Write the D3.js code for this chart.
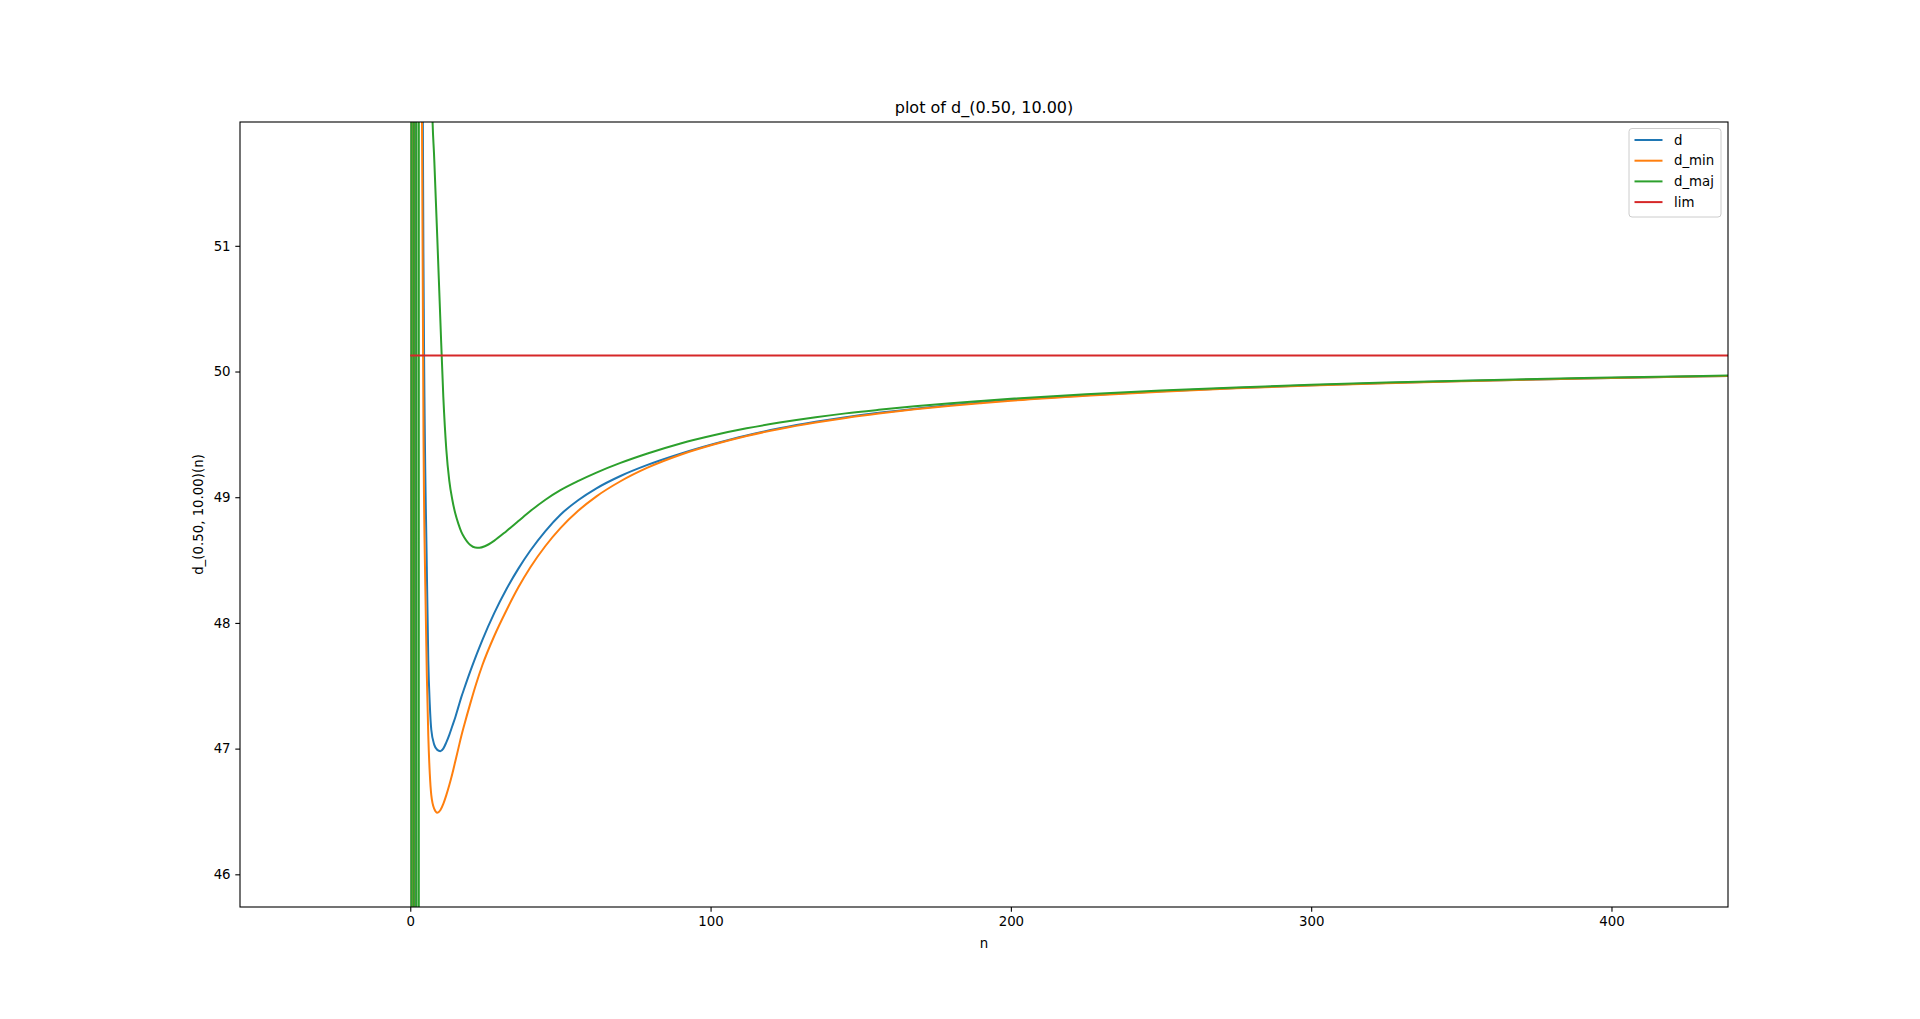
<!DOCTYPE html>
<html>
<head>
<meta charset="utf-8">
<script src="https://cdn.jsdelivr.net/npm/d3@7"></script>
<style>
  html, body { margin: 0; padding: 0; background: #fff; }
  svg { display: block; font-family: "DejaVu Sans", sans-serif; }
</style>
</head>
<body>
<div id="chart"></div>
<script>
// values (n, value); points off-axis are estimated
const dPoints = [[0,-200],[0.7,300],[1.4,-200],[2.4,300],[4,53],[4.5,50.5],[5.5,48.45],[6,47.7],[6.5,47.35],[7,47.15],[8,47.03],[9,46.99],[10,46.98],[11,47.0],[12,47.05],[13,47.11],[14,47.18],[15,47.25],[16,47.33],[17,47.41],[18,47.48],[20,47.616],[22,47.744],[24,47.864],[28,48.08],[32,48.268],[36,48.432],[40,48.576],[45,48.731],[50,48.861],[56,48.978],[62,49.071],[70,49.169],[79,49.257],[90,49.346],[101,49.423],[112,49.491],[123,49.548],[135,49.6],[145,49.637],[156,49.672],[168,49.704],[180,49.733],[190,49.754],[200,49.773],[225,49.812],[250,49.843],[275,49.869],[300,49.89],[325,49.908],[350,49.924],[375,49.937],[400,49.949],[440,49.965]];
const dMinPoints = [[0,300],[0.9,-200],[1.8,300],[3.2,300],[3.9,52],[4.5,49.2],[5,48.3],[5.5,47.6],[6,47.1],[6.5,46.8],[7,46.63],[8,46.52],[9,46.49],[10,46.51],[11,46.56],[12,46.63],[13,46.71],[14,46.8],[15,46.9],[16,47.0],[17,47.1],[18,47.19],[20,47.36],[22,47.52],[24,47.663],[28,47.898],[32,48.099],[36,48.283],[40,48.443],[45,48.612],[50,48.754],[56,48.894],[62,49.007],[70,49.127],[79,49.235],[90,49.338],[101,49.419],[112,49.487],[123,49.543],[135,49.594],[145,49.631],[156,49.666],[168,49.699],[180,49.727],[190,49.748],[200,49.768],[225,49.808],[250,49.84],[275,49.866],[300,49.888],[325,49.907],[350,49.923],[375,49.937],[400,49.949],[440,49.964]];
const dMajPoints = [[0,300],[0.8,-200],[1.6,300],[2.5,-200],[3.2,300],[6.3,300],[7.2,52.2],[8,51.68],[9,51.06],[10,50.42],[11,49.8],[12,49.38],[13,49.13],[14,48.98],[15,48.87],[16,48.79],[17,48.725],[18,48.68],[19,48.645],[20,48.62],[21.6,48.6],[23,48.598],[25,48.612],[28,48.655],[32,48.73],[36,48.81],[40,48.89],[45,48.98],[50,49.056],[56,49.13],[62,49.196],[70,49.273],[79,49.348],[90,49.428],[101,49.493],[112,49.548],[123,49.594],[135,49.637],[145,49.667],[156,49.695],[168,49.723],[180,49.748],[190,49.766],[200,49.783],[225,49.819],[250,49.849],[275,49.873],[300,49.894],[325,49.912],[350,49.927],[375,49.94],[400,49.952],[440,49.968]];
const limValue = 50.128;
const limRange = [0, 445];

const seriesNames = ["d", "d_min", "d_maj", "lim"];
const seriesColors = ["#1f77b4", "#ff7f0e", "#2ca02c", "#d62728"];
const xTicks = [0, 100, 200, 300, 400];
const yTicks = [46, 47, 48, 49, 50, 51];
const xDomain = [-56.7, 438.8];
const yDomain = [45.74, 51.985];

const width = 1920;
const height = 1019;
const margin = {top: 122, right: 192, bottom: 112, left: 240};

const svg = d3.select("#chart").append("svg")
  .attr("width", width)
  .attr("height", height);

const xScale = d3.scaleLinear()
  .domain(xDomain)
  .range([margin.left, width - margin.right]);

const yScale = d3.scaleLinear()
  .domain(yDomain)
  .range([height - margin.bottom, margin.top]);

svg.append("clipPath").attr("id", "clip")
  .append("rect")
  .attr("x", margin.left)
  .attr("y", margin.top)
  .attr("width", width - margin.left - margin.right)
  .attr("height", height - margin.top - margin.bottom);

const line = d3.line()
  .curve(d3.curveMonotoneX)
  .x(d => xScale(d[0]))
  .y(d => yScale(d[1]));

const plot = svg.append("g").attr("clip-path", "url(#clip)");

[dPoints, dMinPoints, dMajPoints].forEach((pts, i) => {
  plot.append("path")
    .attr("d", line(pts))
    .attr("fill", "none")
    .attr("stroke", seriesColors[i])
    .attr("stroke-width", 2);
});

plot.append("path")
  .attr("d", d3.line().x(d => xScale(d)).y(() => yScale(limValue))(limRange))
  .attr("fill", "none")
  .attr("stroke", seriesColors[3])
  .attr("stroke-width", 2);

// axes
const xAxis = g => g
  .attr("transform", `translate(0,${height - margin.bottom})`)
  .call(d3.axisBottom(xScale).tickValues(xTicks).tickSize(4.7).tickPadding(4.7).tickFormat(d3.format("d")));

const yAxis = g => g
  .attr("transform", `translate(${margin.left},0)`)
  .call(d3.axisLeft(yScale).tickValues(yTicks).tickSize(4.7).tickPadding(4.7).tickFormat(d3.format("d")));

[xAxis, yAxis].forEach(ax => {
  const g = svg.append("g").call(ax);
  g.select(".domain").remove();
  g.selectAll("line").attr("stroke", "#000").attr("stroke-width", 1.1);
  g.selectAll("text").attr("font-size", 13.33).attr("fill", "#000")
    .attr("font-family", "DejaVu Sans, sans-serif");
});

// frame
svg.append("rect")
  .attr("x", margin.left)
  .attr("y", margin.top)
  .attr("width", width - margin.left - margin.right)
  .attr("height", height - margin.top - margin.bottom)
  .attr("fill", "none")
  .attr("stroke", "#000")
  .attr("stroke-width", 1.1);

// title and labels
svg.append("text")
  .attr("x", (margin.left + width - margin.right) / 2)
  .attr("y", 113)
  .attr("text-anchor", "middle")
  .attr("font-size", 16)
  .text("plot of d_(0.50, 10.00)");

svg.append("text")
  .attr("x", (margin.left + width - margin.right) / 2)
  .attr("y", 948)
  .attr("text-anchor", "middle")
  .attr("font-size", 13.33)
  .text("n");

svg.append("text")
  .attr("transform", `translate(203,${(margin.top + height - margin.bottom) / 2}) rotate(-90)`)
  .attr("text-anchor", "middle")
  .attr("font-size", 13.33)
  .text("d_(0.50, 10.00)(n)");

// legend
const legend = svg.append("g").attr("transform", "translate(1629,128.5)");
legend.append("rect")
  .attr("width", 92)
  .attr("height", 88.5)
  .attr("rx", 3)
  .attr("fill", "#fff")
  .attr("fill-opacity", 0.8)
  .attr("stroke", "#ccc")
  .attr("stroke-width", 1);

seriesNames.forEach((name, i) => {
  const row = legend.append("g").attr("transform", `translate(0,${11.5 + i * 20.7})`);
  row.append("line")
    .attr("x1", 5.5).attr("x2", 33.5)
    .attr("stroke", seriesColors[i])
    .attr("stroke-width", 2);
  row.append("text")
    .attr("x", 45)
    .attr("y", 4.7)
    .attr("font-size", 13.33)
    .text(name);
});
</script>
</body>
</html>
